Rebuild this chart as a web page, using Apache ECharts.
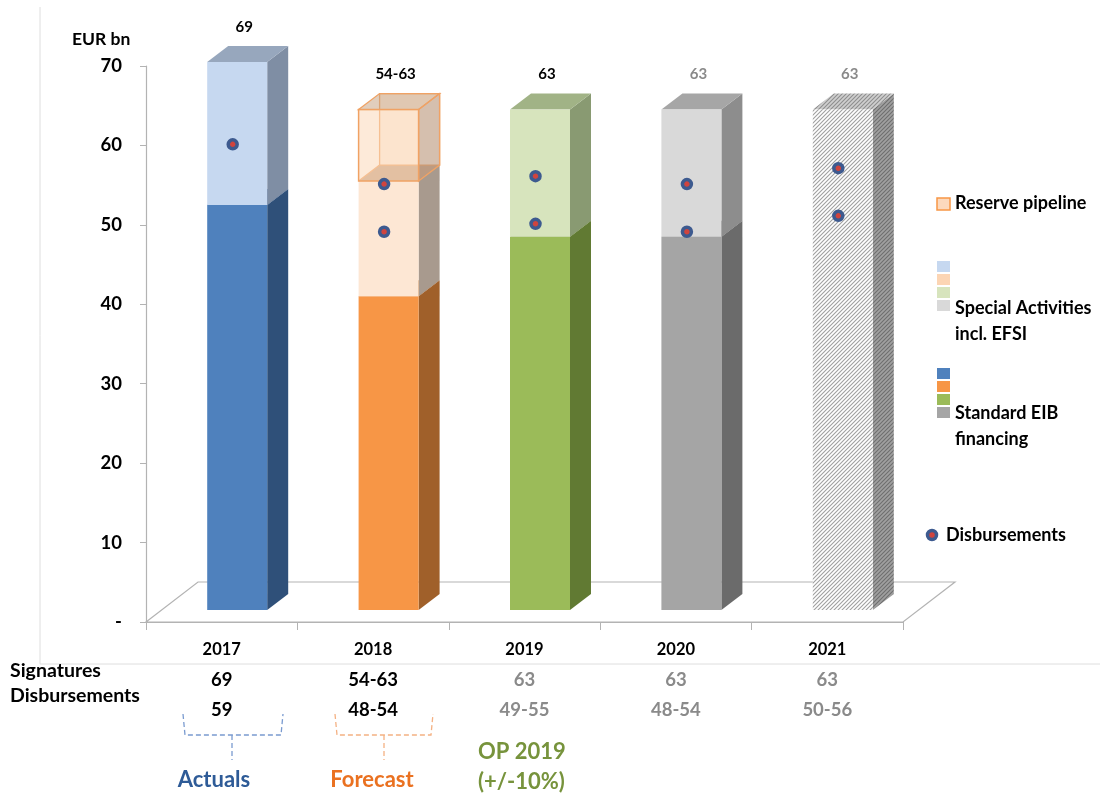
<!DOCTYPE html>
<html><head><meta charset="utf-8">
<script src="https://cdn.jsdelivr.net/npm/echarts@6/dist/echarts.min.js"></script>
<style>html,body{margin:0;padding:0;background:#fff}#c{width:1100px;height:799px}</style>
</head><body><div id="c"></div>
<script>
// ---------- data ----------
const categories = ['2017', '2018', '2019', '2020', '2021'];
const standardEIB = [51, 39.5, 47, 47, 0];
const specialActivities = [18, 14.5, 16, 16, 0];
const reservePipeline = [0, 9, 0, 0, 0];
const outlook2021 = [0, 0, 0, 0, 63];
const disbursementsLow = [59, 48, 49, 48, 50];
const disbursementsHigh = [null, 54, 55, 54, 56];
const signatureLabels = ['69', '54-63', '63', '63', '63'];
const disbursementLabels = ['59', '48-54', '49-55', '48-54', '50-56'];
const yMin = 0, yMax = 70, yStep = 10;

// ---------- styling ----------
const FONT = 'Lato, "Open Sans", sans-serif';
const W = 60, OFF_X = 15.5, OFF_Y = -12, DX = 21, DY = -16;
const greyLabel = '#8a8a8a';

function hatch(bg, line, lw) {
  const c = document.createElement('canvas');
  c.width = 4; c.height = 4;
  const g = c.getContext('2d');
  g.fillStyle = bg; g.fillRect(0, 0, 4, 4);
  g.strokeStyle = line; g.lineWidth = lw;
  g.beginPath();
  g.moveTo(-1, 5); g.lineTo(5, -1);
  g.moveTo(-1, 1); g.lineTo(1, -1);
  g.moveTo(3, 5); g.lineTo(5, 3);
  g.stroke();
  return { image: c, repeat: 'repeat' };
}

const palStandard = [
  { f: '#4f81bd', s: '#2f5079', t: '#3c6396' },
  { f: '#f79646', s: '#a0602a', t: '#c47636' },
  { f: '#9bbb59', s: '#617a33', t: '#7c9645' },
  { f: '#a5a5a5', s: '#6b6b6b', t: '#878787' },
  { f: '#a5a5a5', s: '#6b6b6b', t: '#878787' }
];
const palSpecial = [
  { f: '#c6d8f0', s: '#7f8ea4', t: '#97a7bd' },
  { f: '#fde7d4', s: '#a89a8e', t: '#c8b4a2' },
  { f: '#d7e4bd', s: '#899a72', t: '#a1b386' },
  { f: '#d9d9d9', s: '#8d8d8d', t: '#a6a6a6' },
  { f: '#d9d9d9', s: '#8d8d8d', t: '#a6a6a6' }
];
const palHatch = {
  f: hatch('#ffffff', '#a0a0a0', 1.1),
  s: hatch('#a0a0a0', '#6e6e6e', 1.1),
  t: hatch('#cfcfcf', '#8e8e8e', 1.1)
};

function stackData(layers, k) {
  return categories.map((c, i) => {
    let b = 0;
    for (let j = 0; j < k; j++) b += layers[j][i];
    return [i, b, b + layers[k][i]];
  });
}
const layers = [standardEIB, specialActivities, reservePipeline];

function geom(api) {
  const i = api.value(0), b = api.value(1), t = api.value(2);
  const pb = api.coord([i, b]), pt = api.coord([i, t]);
  const x0 = pb[0] + OFF_X - W / 2, x1 = x0 + W;
  return { i, b, t, x0, x1, yb: pb[1] + OFF_Y, yt: pt[1] + OFF_Y };
}

function solidRender(pals) {
  return function (params, api) {
    const g = geom(api);
    if (g.t - g.b <= 0) return;
    const p = pals[g.i];
    const { x0, x1, yb, yt } = g;
    return {
      type: 'group', children: [
        { type: 'polygon', shape: { points: [[x1, yb], [x1 + DX, yb + DY], [x1 + DX, yt + DY], [x1, yt]] }, style: { fill: p.s } },
        { type: 'polygon', shape: { points: [[x0, yt], [x0 + DX, yt + DY], [x1 + DX, yt + DY], [x1, yt]] }, style: { fill: p.t } },
        { type: 'rect', shape: { x: x0, y: yt, width: W, height: yb - yt }, style: { fill: p.f } }
      ]
    };
  };
}

function reserveRender(params, api) {
  const g = geom(api);
  if (g.t - g.b <= 0) return;
  const { x0, x1, yb, yt } = g;
  const edge = '#f0a264';
  return {
    type: 'group', children: [
      { type: 'polygon', shape: { points: [[x0, yb], [x0 + DX, yb + DY], [x1 + DX, yb + DY], [x1, yb]] }, style: { fill: 'rgba(196,150,112,0.55)' } },
      { type: 'rect', shape: { x: x0 + DX, y: yt + DY, width: W, height: yb - yt }, style: { fill: 'rgba(250,214,186,0.35)', stroke: edge, lineWidth: 1.3 } },
      { type: 'line', shape: { x1: x0, y1: yb, x2: x0 + DX, y2: yb + DY }, style: { stroke: edge, lineWidth: 1.3 } },
      { type: 'polygon', shape: { points: [[x1, yb], [x1 + DX, yb + DY], [x1 + DX, yt + DY], [x1, yt]] }, style: { fill: 'rgba(180,150,128,0.55)', stroke: edge, lineWidth: 1.3 } },
      { type: 'polygon', shape: { points: [[x0, yt], [x0 + DX, yt + DY], [x1 + DX, yt + DY], [x1, yt]] }, style: { fill: 'rgba(200,165,135,0.55)', stroke: edge, lineWidth: 1.3 } },
      { type: 'rect', shape: { x: x0, y: yt, width: W, height: yb - yt }, style: { fill: 'rgba(252,216,186,0.55)', stroke: edge, lineWidth: 1.5 } }
    ]
  };
}

function hatchRender(params, api) {
  const g = geom(api);
  if (g.t - g.b <= 0) return;
  const { x0, x1, yb, yt } = g;
  return {
    type: 'group', children: [
      { type: 'polygon', shape: { points: [[x1, yb], [x1 + DX, yb + DY], [x1 + DX, yt + DY], [x1, yt]] }, style: { fill: palHatch.s } },
      { type: 'polygon', shape: { points: [[x0, yt], [x0 + DX, yt + DY], [x1 + DX, yt + DY], [x1, yt]] }, style: { fill: palHatch.t } },
      { type: 'rect', shape: { x: x0, y: yt, width: W, height: yb - yt }, style: { fill: palHatch.f } }
    ]
  };
}

function floorRender(params, api) {
  const cs = params.coordSys;
  const xl = cs.x, xr = cs.x + cs.width, yf = cs.y + cs.height;
  const bx = 52, by = -40;
  return {
    type: 'polygon',
    shape: { points: [[xl, yf], [xl + bx, yf + by], [xr + bx, yf + by], [xr, yf]] },
    style: { fill: '#ffffff', stroke: '#b3b3b3', lineWidth: 1.2 }
  };
}

const totals = categories.map((c, i) => standardEIB[i] + specialActivities[i] + reservePipeline[i] + outlook2021[i]);
function topLabelRender(params, api) {
  const i = api.value(0), t = api.value(1);
  const p = api.coord([i, t]);
  const yt = p[1] + OFF_Y;
  return {
    type: 'text',
    style: {
      text: signatureLabels[i], x: p[0] + OFF_X + 7, y: yt + DY - 19,
      fill: i < 3 ? '#000000' : greyLabel,
      font: 'bold 15px ' + FONT,
      align: 'center', verticalAlign: 'middle', textAlign: 'center', textVerticalAlign: 'middle'
    }
  };
}

const dots = [];
categories.forEach((c, i) => {
  if (disbursementsLow[i] != null) dots.push([i, disbursementsLow[i]]);
  if (disbursementsHigh[i] != null) dots.push([i, disbursementsHigh[i]]);
});

const chart = echarts.init(document.getElementById('c'), null, { renderer: 'canvas' });

const txt = (text, x, y, opts) => Object.assign({
  type: 'text', style: Object.assign({ text, x, y, font: 'bold 18px ' + FONT, fill: '#000', textVerticalAlign: 'middle', verticalAlign: 'middle' }, opts || {})
});
const sq = (x, y, w, h, fill, stroke) => ({ type: 'rect', shape: { x, y, width: w, height: h }, style: { fill, stroke: stroke || null, lineWidth: stroke ? 1.5 : 0 } });

const option = {
  backgroundColor: '#ffffff',
  animation: false,
  textStyle: { fontFamily: FONT },
  grid: { left: 146, right: 197, top: 66, bottom: 177, containLabel: false },
  xAxis: {
    type: 'category', data: categories, boundaryGap: true,
    axisLine: { lineStyle: { color: '#b3b3b3', width: 1.2 } },
    axisTick: { show: true, length: 8, lineStyle: { color: '#b3b3b3' } },
    axisLabel: {
      margin: 13, interval: 0,
      formatter: (v, idx) => {
        const c = idx < 2 ? 'b' : 'g';
        return '{y|' + v + '}\n{' + c + '|' + signatureLabels[idx] + '}\n{' + c + '|' + disbursementLabels[idx] + '}';
      },
      rich: {
        y: { fontSize: 16.5, fontWeight: 'bold', color: '#000', lineHeight: 30, fontFamily: FONT },
        b: { fontSize: 18.5, fontWeight: 'bold', color: '#000', lineHeight: 30, fontFamily: FONT },
        g: { fontSize: 18.5, fontWeight: 'bold', color: greyLabel, lineHeight: 30, fontFamily: FONT }
      }
    },
    splitLine: { show: false }
  },
  yAxis: {
    type: 'value', min: yMin, max: yMax, interval: yStep,
    axisLine: { show: true, lineStyle: { color: '#b3b3b3', width: 1.2 } },
    axisTick: { show: true, length: 6, lineStyle: { color: '#b3b3b3' } },
    axisLabel: { margin: 24, fontSize: 18.5, fontWeight: 'bold', color: '#000', fontFamily: FONT, formatter: v => v === 0 ? '-' : String(v) },
    splitLine: { show: false }
  },
  series: [
    { type: 'custom', name: 'floor', data: [[0, 0]], renderItem: floorRender, z: 1, silent: true, clip: false },
    { type: 'custom', name: 'Standard EIB financing', data: stackData(layers, 0), encode: { x: 0, y: [1, 2] }, renderItem: solidRender(palStandard), z: 2, clip: false },
    { type: 'custom', name: 'Special Activities incl. EFSI', data: stackData(layers, 1), encode: { x: 0, y: [1, 2] }, renderItem: solidRender(palSpecial), z: 3, clip: false },
    { type: 'custom', name: 'Reserve pipeline', data: stackData(layers, 2), encode: { x: 0, y: [1, 2] }, renderItem: reserveRender, z: 4, clip: false },
    { type: 'custom', name: '2021', data: categories.map((c, i) => [i, 0, outlook2021[i]]), encode: { x: 0, y: [1, 2] }, renderItem: hatchRender, z: 2, clip: false },
    { type: 'custom', name: 'labels', data: categories.map((c, i) => [i, totals[i]]), encode: { x: 0, y: 1 }, renderItem: topLabelRender, z: 6, clip: false },
    {
      type: 'scatter', name: 'Disbursements', data: dots, symbol: 'circle', symbolSize: 9,
      symbolOffset: [11, -9], z: 7,
      itemStyle: { color: '#d0443e', borderColor: '#3d5a8f', borderWidth: 3.5, opacity: 1 }
    }
  ],
  graphic: [
    { type: 'line', shape: { x1: 40, y1: 7, x2: 40, y2: 664 }, style: { stroke: '#dedede', lineWidth: 1 }, z: 0 },
    { type: 'line', shape: { x1: 40, y1: 664, x2: 1100, y2: 664 }, style: { stroke: '#dedede', lineWidth: 1 }, z: 0 },
    txt('EUR bn', 72, 39, { font: 'bold 17.5px ' + FONT }),
    txt('Signatures', 10, 671, { font: 'bold 19.5px ' + FONT }),
    txt('Disbursements', 10, 696, { font: 'bold 19.5px ' + FONT }),
    { type: 'polyline', shape: { points: [[183, 714], [185, 735], [281, 735], [283, 714]] }, style: { stroke: '#7a9bd0', lineWidth: 1.3, lineDash: [5, 3], fill: null } },
    { type: 'line', shape: { x1: 232, y1: 735, x2: 232, y2: 760 }, style: { stroke: '#7a9bd0', lineWidth: 1.3, lineDash: [5, 3] } },
    { type: 'polyline', shape: { points: [[335, 714], [337, 735], [431, 735], [433, 714]] }, style: { stroke: '#f4b183', lineWidth: 1.3, lineDash: [5, 3], fill: null } },
    { type: 'line', shape: { x1: 384, y1: 735, x2: 384, y2: 760 }, style: { stroke: '#f4b183', lineWidth: 1.3, lineDash: [5, 3] } },
    txt('Actuals', 214, 780, { font: 'bold 22px ' + FONT, fill: '#2e5b97', textAlign: 'center', align: 'center' }),
    txt('Forecast', 372, 780, { font: 'bold 22px ' + FONT, fill: '#ea7120', textAlign: 'center', align: 'center' }),
    txt('OP 2019', 478, 752, { font: 'bold 22px ' + FONT, fill: '#77933c' }),
    txt('(+/-10%)', 478, 782, { font: 'bold 22px ' + FONT, fill: '#77933c' }),
    sq(937, 198, 13, 12, '#fcd9bd', '#f79646'),
    txt('Reserve pipeline', 955, 203),
    sq(937, 261, 13, 11, '#c6d8f0'),
    sq(937, 274, 13, 11, '#fcd5b4'),
    sq(937, 287, 13, 11, '#d7e4bd'),
    sq(937, 300, 13, 11, '#d9d9d9'),
    txt('Special Activities', 955, 308),
    txt('incl. EFSI', 955, 334),
    sq(937, 368, 13, 11, '#4f81bd'),
    sq(937, 381, 13, 11, '#f79646'),
    sq(937, 394, 13, 11, '#9bbb59'),
    sq(937, 407, 13, 11, '#a5a5a5'),
    txt('Standard EIB', 955, 413),
    txt('financing', 955, 439),
    { type: 'circle', shape: { cx: 932, cy: 535, r: 4.5 }, style: { fill: '#d0443e', stroke: '#3d5a8f', lineWidth: 3.5 } },
    txt('Disbursements', 946, 535)
  ]
};
chart.setOption(option);
</script>
</body></html>
